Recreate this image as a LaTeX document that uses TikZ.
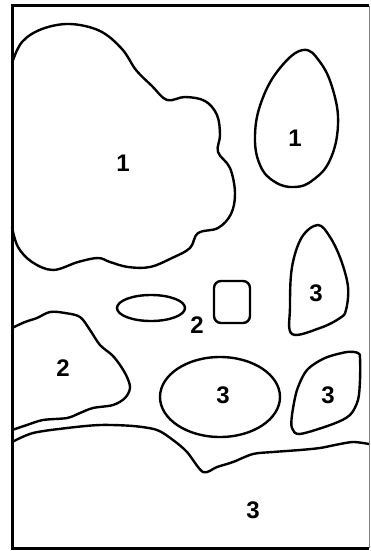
\documentclass[tikz,border=0pt]{standalone}
\usepackage{fontspec}
\setsansfont{Liberation Sans}
\usepackage{tikz}
\tikzset{
  blob/.style={line width=2.4pt,line join=round},
  zone/.style={font=\sffamily\bfseries\fontsize{24}{24}\selectfont,inner sep=0pt}
}

\begin{document}
\begin{tikzpicture}[x=1pt,y=-1pt]
  \useasboundingbox (0,0) rectangle (371,551);
  % frame
  \draw[line width=3pt](369,6)--(12,6)--(12,548)--(369,548);
  \draw[line width=0.8pt,gray](369,6)--(369,548);
  % big cloud on the left edge
  \draw[blob] plot[smooth,tension=0.6] coordinates {
    (12,63) (22,42) (42,29) (70,24) (100,31) (122,49) (136,70)
    (152,86) (167,100) (185,97) (205,101) (217,115) (220,135) (218,152)
    (230,168) (235,193) (231,214) (218,228) (198,233)
    (190,248) (172,258) (150,267) (128,267) (110,262) (98,258)
    (78,262) (53,270) (32,262) (18,247) (12,227)};
  % egg
  \draw[blob] plot[smooth cycle,tension=0.7] coordinates {
    (303,50) (320,62) (333,90) (338,125) (330,160) (313,180) (295,187)
    (275,182) (260,165) (255,135) (262,100) (280,68)};
  % drop on the right
  \draw[blob] plot[smooth cycle,tension=0.6] coordinates {
    (318,225) (330,237) (341,260) (348,287) (346,310) (340,318) (320,328)
    (292,334) (290,307) (292,267) (302,237)};
  % small ellipse and square
  \draw[blob](151,308) ellipse (34 and 13);
  \draw[blob,rounded corners=7pt](214,281) rectangle (250,323);
  % region 2 on the left edge
  \draw[blob] plot[smooth,tension=0.55] coordinates {
    (12,328) (25,322) (37,318) (50,312) (65,313) (80,317) (90,330)
    (100,345) (112,355) (120,365) (127,377) (130,388) (125,398) (113,405)
    (93,408) (80,413) (67,418) (43,420) (27,425) (12,430)};
  % middle ellipse
  \draw[blob](220,397) ellipse (60 and 40);
  % lens on the right
  \draw[blob] plot[smooth cycle,tension=0.5] coordinates {
    (358,353) (347,352) (325,358) (307,370) (297,390) (292,415) (292,428)
    (300,434) (333,424) (350,415) (358,400) (360,380) (360,358)};
  % ground line
  \draw[blob] plot[smooth,tension=0.5] coordinates {
    (12,442) (33,433) (67,428) (100,425) (133,426) (157,430) (173,440)
    (187,452) (203,472) (217,467) (233,462) (253,454) (273,452) (300,450)
    (320,448) (335,445) (353,442) (369,444)};
  % labels
  \node[zone] (cloud) at (123,163) {1};
  \node[zone] (egg)   at (295,138) {1};
  \node[zone] (drop)  at (316,293) {3};
  \node[zone] (small) at (197,325) {2};
  \node[zone] (left)  at (63,368)  {2};
  \node[zone] (mid)   at (223,395) {3};
  \node[zone] (lens)  at (328,395) {3};
  \node[zone] (floor) at (253,510) {3};
\end{tikzpicture}
\end{document}
